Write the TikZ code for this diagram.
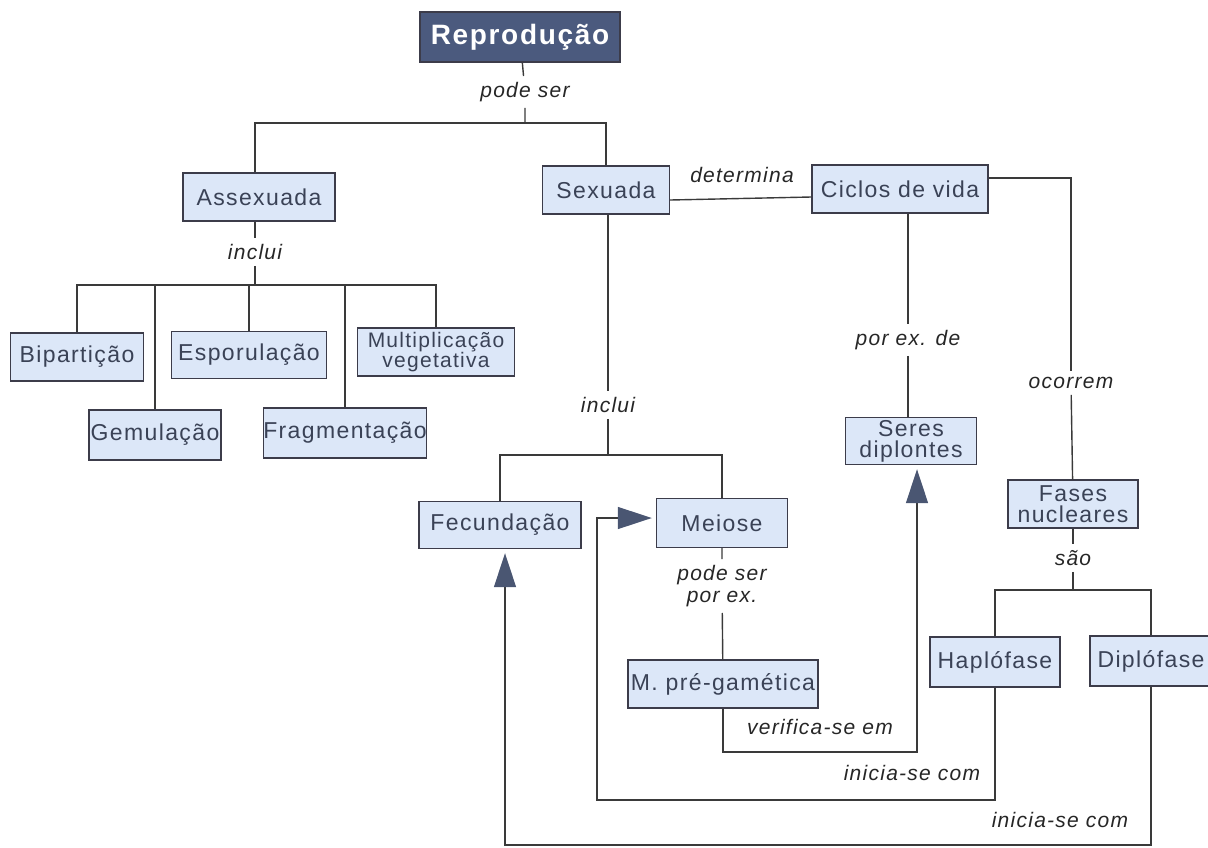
\documentclass[tikz,border=0pt]{standalone}
\usepackage{fontspec}
\setmainfont{Liberation Sans}[LetterSpace=6]
\usetikzlibrary{arrows.meta}

\definecolor{boxfill}{HTML}{DCE7F8}
\definecolor{boxline}{HTML}{3C3C4A}
\definecolor{boxtext}{HTML}{3A4256}
\definecolor{titlefill}{HTML}{4B5A7E}
\definecolor{linecol}{HTML}{3A3A3A}
\definecolor{tipcol}{HTML}{4A5672}

\begin{document}
\begin{tikzpicture}[x=1pt,y=-1pt,
    concept/.style={draw=boxline,fill=boxfill,line width=1.4pt,inner sep=0pt,
        minimum height=48pt,align=center,text=boxtext,
        font=\fontsize{23}{21}\selectfont},
    linkword/.style={font=\itshape\fontsize{21}{22}\selectfont,inner sep=6pt,
        align=center,text=black!85},
    wire/.style={draw=linecol,line width=1.4pt},
    tip/.style={-{Triangle[length=34pt,width=22pt,color=tipcol]},shorten >=4pt}]

    \useasboundingbox (0,0) rectangle (1208,847);

    % title
    \node[draw=boxline,fill=titlefill,line width=1.4pt,minimum width=200pt,minimum height=50pt,
        text=white,font=\bfseries\fontsize{28}{30}\selectfont] (repro) at (520,37) {Reprodução};

    \begin{scope}[every node/.style={concept}]
        \node[minimum width=152pt] (assex) at (259,197) {Assexuada};
        \node[minimum width=127pt] (sex) at (606,190) {Sexuada};
        \node[minimum width=176pt] (ciclos) at (900,189) {Ciclos de vida};
        % asexual kinds
        \node[minimum width=133pt] (bip) at (77,357) {Bipartição};
        \node[minimum width=132pt,minimum height=50pt] (gem) at (155,435) {Gemulação};
        \node[minimum width=155pt,minimum height=47pt] (espo) at (249,355) {Esporulação};
        \node[minimum width=155pt,minimum height=50pt] (frag) at (345,433) {Fragmentação};
        \node[minimum width=157pt,font=\fontsize{21}{20}\selectfont] (mult) at (436,352) {Multiplicação\\vegetativa};
        % sexual side
        \node[minimum width=162pt,minimum height=47pt] (fec) at (500,525) {Fecundação};
        \node[minimum width=131pt,minimum height=49pt] (mei) at (722,523) {Meiose};
        \node[minimum width=190pt] (pre) at (723,684) {M. pré-gamética};
        \node[minimum width=131pt,minimum height=47pt] (seres) at (911,441) {Seres\\diplontes};
        \node[minimum width=130pt] (fases) at (1073,504) {Fases\\nucleares};
        \node[minimum width=130pt,minimum height=50pt] (hap) at (995,662) {Haplófase};
        \node[minimum width=122pt,minimum height=50pt] (dip) at (1151,661) {Diplófase};
    \end{scope}

    \begin{scope}[every node/.style={linkword}]
        \node (lpode) at (525,92) {pode ser};
        \node (lincA) at (255,252) {inclui};
        \node (ldet) at (742,175) {determina};
        \node (lincS) at (608,405) {inclui};
        \node (lporex) at (908,340) {por ex. de};
        \node (locor) at (1071,383) {ocorrem};
        \node (lpodeM) at (722,586) {pode ser\\por ex.};
        \node (lsao) at (1073,558) {são};
        \node (lver) at (820,727) {verifica-se em};
        \node (linH) at (912,773) {inicia-se com};
        \node (linD) at (1060,820) {inicia-se com};
    \end{scope}

    \coordinate (jtop) at (525,123);
    \coordinate (jA) at (255,285);
    \coordinate (jS) at (608,455);
    \coordinate (jF) at (1073,590);
    \coordinate (loopV) at (917,752);
    \coordinate (loopH) at (597,800);
    \coordinate (loopD) at (505,845);

    \begin{scope}[wire]
        \draw (repro) -- (lpode) -- (jtop);
        \draw (assex.north -| jA) |- (jtop) -| (sex.north);
        \draw (assex.south -| lincA) -- (lincA) -- (jA);
        \draw (bip.north) |- (jA) -| (mult.north);
        \draw (gem.north) -- (gem.north |- jA);
        \draw (espo.north) -- (espo.north |- jA);
        \draw (frag.north) -- (frag.north |- jA);
        \draw ([yshift=-10pt]sex.east) -- ([yshift=-8pt]ciclos.west);
        \draw (lincS |- sex.south) -- (lincS) -- (jS);
        \draw (fec.north) |- (jS) -| (mei.north);
        \draw (mei) -- (lpodeM) -- (pre);
        \draw (lporex |- ciclos.south) -- (lporex) -- (lporex |- seres.north);
        \draw ([yshift=11pt]ciclos.east) -| (locor);
        \draw (locor) -- (fases);
        \draw (fases) -- (lsao) -- (jF);
        \draw (hap.north) |- (jF) -| (dip.north);
        % back links
        \draw[tip] (pre.south) |- (loopV) -- (loopV |- seres.south);
        \draw[tip] (hap.south) |- (loopH) |- ([yshift=5pt]mei.west);
        \draw[tip] (dip.south) |- (loopD) -- (loopD |- fec.south);
    \end{scope}
\end{tikzpicture}
\end{document}
